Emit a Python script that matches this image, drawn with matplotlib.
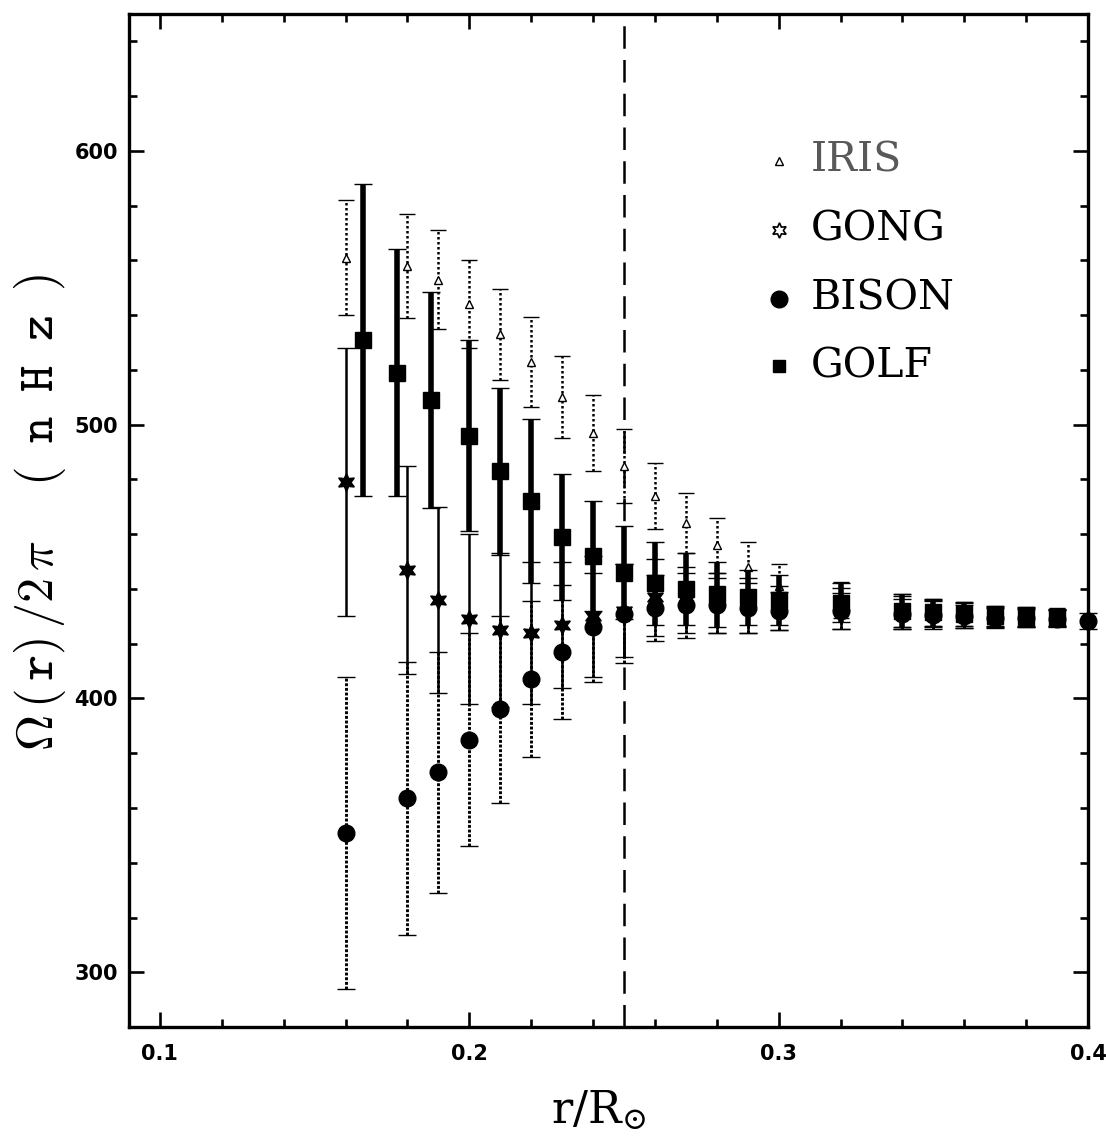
import matplotlib
matplotlib.use('Agg')
import matplotlib.pyplot as plt
from matplotlib.lines import Line2D
from matplotlib.ticker import MultipleLocator

# ---------------- data ----------------
r_common = [0.16, 0.18, 0.19, 0.20, 0.21, 0.22, 0.23, 0.24, 0.25, 0.26, 0.27,
            0.28, 0.29, 0.30, 0.32, 0.34, 0.35, 0.36, 0.37, 0.38, 0.39]

iris_val = [561, 558, 553, 544, 533, 523, 510, 497, 485, 474, 464,
            456, 448, 441, 436, 432, 431.5, 430.8, 430.2, 430, 429.8]
iris_err = [21, 19, 18, 16, 16.5, 16.5, 15, 14, 13.5, 12, 11,
            10, 9, 8, 6.5, 6, 5, 4.4, 3.7, 3.5, 3.1]

gong_val = [479, 447, 436, 429, 425, 424, 427, 430, 432, 437, 436,
            435, 434, 433, 433, 431.5, 431, 430.3, 429.8, 429.6, 429.4]
gong_err = [49, 38, 34, 31, 28, 26, 23, 22, 17, 14, 12,
            11, 10, 8, 7.5, 6, 5, 4.4, 3.7, 3.5, 3.1]

r_bison = r_common + [0.40]
bison_val = [351, 363.5, 373, 385, 396, 407, 417, 426, 431, 433, 434,
             434, 433, 432, 432, 431, 430.5, 430, 429.5, 429.4, 429.2, 428.3]
bison_err = [57, 50, 44, 39, 34, 28.5, 24.5, 20, 18, 12, 12,
             10, 9, 7, 6.5, 5.5, 5, 4.3, 3.6, 3.4, 3.0, 3.0]

r_golf = [0.1655, 0.1766, 0.1875, 0.20, 0.21, 0.22, 0.23, 0.24, 0.25, 0.26, 0.27,
          0.28, 0.29, 0.30, 0.32, 0.34, 0.35, 0.36, 0.37, 0.38, 0.39]
golf_val = [531, 519, 509, 496, 483, 472, 459, 452, 446, 442, 440,
            438, 437, 436, 435, 432, 431.5, 430.8, 430.2, 429.9, 429.6]
golf_err = [57, 45, 39.5, 35, 30.5, 30, 23, 20, 17, 15, 13,
            12, 10, 9, 7, 6, 5, 4.4, 3.7, 3.5, 3.1]

labels = ['IRIS', 'GONG', 'BISON', 'GOLF']
x_ticks = [0.1, 0.2, 0.3, 0.4]
y_ticks = [300, 400, 500, 600]
boundary_r = 0.25

# ---------------- figure ----------------
W, H = 1106, 1141
fig = plt.figure(figsize=(W / 100, H / 100), dpi=100)
ax = fig.add_axes([129 / W, 0.0999, 959 / W, 0.8878])
ax.set_xlim(0.09, 0.40)
ax.set_ylim(280, 650)

star6 = (6, 1, 0)

def draw(r, v, e, marker, ms, mfc, elw, ls, capsize, capthick, z):
    cont = ax.errorbar(r, v, yerr=e, fmt='', marker=marker, linestyle='none',
                       ms=ms, mfc=mfc, mec='black', mew=1.0, color='black',
                       ecolor='black', elinewidth=elw, capsize=capsize,
                       capthick=capthick, zorder=z)
    for col in cont[2]:
        col.set_linestyle(ls)
        col.set_clip_on(False)
    cont[0].set_clip_on(False)
    for c in cont[1]:
        c.set_clip_on(False)
    return cont

draw(r_common, iris_val, iris_err, '^', 6, 'white', 1.8, (0, (1, 1)), 5.5, 1.5, 3)
draw(r_bison, bison_val, bison_err, 'o', 12, 'black', 2.1, (0, (1, 0.6)), 6.5, 2.0, 4)
draw(r_common, gong_val, gong_err, star6, 13, 'black', 1.8, '-', 6.5, 2.0, 5)
draw(r_golf, golf_val, golf_err, 's', 11, 'black', 4.0, '-', 6.5, 3.0, 6)

ax.axvline(boundary_r, color='black', lw=1.8, dashes=(9, 4.5), zorder=2)

# ---------------- axes styling ----------------
for s in ax.spines.values():
    s.set_linewidth(2.4)
ax.set_xticks(x_ticks)
ax.set_yticks(y_ticks)
ax.xaxis.set_minor_locator(MultipleLocator(0.02))
ax.yaxis.set_minor_locator(MultipleLocator(20))
ax.tick_params(which='both', direction='in', top=True, right=True, width=1.9)
ax.tick_params(which='major', length=11)
ax.tick_params(which='minor', length=6)
ax.tick_params(axis='x', pad=12)
ax.tick_params(axis='y', pad=8)
ax.set_xticklabels([f'{t:.1f}' for t in x_ticks])
ax.set_yticklabels([str(t) for t in y_ticks])
for lab in ax.get_xticklabels() + ax.get_yticklabels():
    lab.set_fontfamily(['Liberation Sans Narrow', 'DejaVu Sans'])
    lab.set_fontweight('bold')
    lab.set_fontsize(15)

ylabel = (r'$\Omega\,\mathtt{(}\,\mathtt{r)}\,\mathtt{/2}\,\pi\quad\;'
          r'\mathtt{(}\;\;\mathtt{n}\;\;\mathtt{H}\;\;\mathtt{z}\;\;\mathtt{)}$')
fig.text(40 / W, 1 - 512 / H, ylabel, fontsize=36, math_fontfamily='cm',
         rotation=90, ha='center', va='center')
fig.text(598 / W, 1 - 1110 / H, r'$\mathrm{r/R_{\odot}}$', fontsize=32,
         math_fontfamily='dejavuserif', ha='center', va='center')

# ---------------- legend ----------------
leg_markers = [dict(marker='^', ms=6, mfc='white', mec='black', mew=1.0),
               dict(marker=star6, ms=11, mfc='white', mec='black', mew=1.2),
               dict(marker='o', ms=12, mfc='black', mec='black'),
               dict(marker='s', ms=9, mfc='black', mec='black')]
leg_y = [0.855, 0.787, 0.719, 0.6525]
leg_colors = ['0.35', 'black', 'black', 'black']
for lab, mk, yy, colr in zip(labels, leg_markers, leg_y, leg_colors):
    ax.add_line(Line2D([0.678], [yy], transform=ax.transAxes, ls='none',
                       color='black', **mk))
    ax.text(0.7104, yy, lab, transform=ax.transAxes, fontsize=29.5,
            family='DejaVu Serif', va='center', ha='left', color=colr)

fig.savefig('out.png', dpi=100)
